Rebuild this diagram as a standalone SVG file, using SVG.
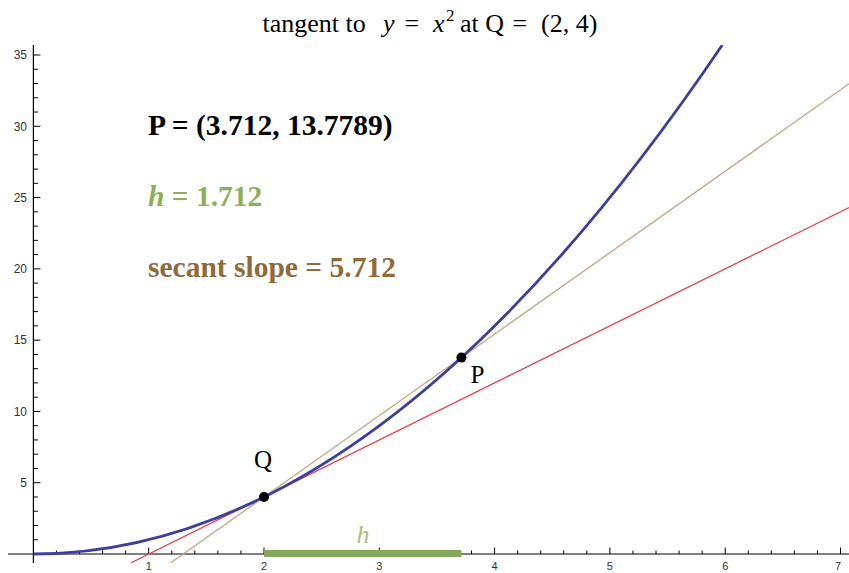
<svg xmlns="http://www.w3.org/2000/svg" width="849" height="573" viewBox="0 0 849 573">
<style>
.ax{stroke:#000;stroke-width:1.2;fill:none}
.tk{stroke:#000;stroke-width:1;fill:none}
.tl{font-family:"Liberation Sans",Arial,sans-serif;font-size:12px;fill:#333}
.xl{font-size:11px}
.ser{font-family:"Liberation Serif","Times New Roman",serif}
.big{font-family:"Liberation Serif","Times New Roman",serif;font-weight:bold;font-size:29.5px}
.dot{fill:#000}
</style>
<defs>
<clipPath id="plot"><rect x="8" y="45" width="841" height="518"/></clipPath>
</defs>
<rect width="849" height="573" fill="#fff"/>
<g id="title">
<text class="ser" y="32" font-size="26" fill="#000"><tspan x="262.5">tangent to</tspan><tspan x="383" font-style="italic">y</tspan><tspan x="404.5">=</tspan><tspan x="433" font-style="italic">x</tspan><tspan x="446" y="21" font-size="17">2</tspan><tspan x="460" y="32">at Q</tspan><tspan x="512.5">=</tspan><tspan x="541">(2, 4)</tspan></text>
</g>
<g id="axes">
<path class="ax" d="M8 554H849M33.4 45V563"/>
<path class="tk" d="M56.46 554v-3.5M79.52 554v-3.5M102.58 554v-3.5M125.64 554v-3.5M171.76 554v-3.5M194.82 554v-3.5M217.88 554v-3.5M240.94 554v-3.5M287.06 554v-3.5M310.12 554v-3.5M333.18 554v-3.5M356.24 554v-3.5M402.36 554v-3.5M425.42 554v-3.5M448.48 554v-3.5M471.54 554v-3.5M517.66 554v-3.5M540.72 554v-3.5M563.78 554v-3.5M586.84 554v-3.5M632.96 554v-3.5M656.02 554v-3.5M679.08 554v-3.5M702.14 554v-3.5M748.26 554v-3.5M771.32 554v-3.5M794.38 554v-3.5M817.44 554v-3.5"/>
<path class="tk" d="M148.7 554v-6.5M264 554v-6.5M379.3 554v-6.5M494.6 554v-6.5M609.9 554v-6.5M725.2 554v-6.5M840.5 554v-6.5"/>
<path class="tk" d="M33.4 539.74h4.5M33.4 525.49h4.5M33.4 511.23h4.5M33.4 496.97h4.5M33.4 468.46h4.5M33.4 454.2h4.5M33.4 439.94h4.5M33.4 425.69h4.5M33.4 397.17h4.5M33.4 382.92h4.5M33.4 368.66h4.5M33.4 354.4h4.5M33.4 325.89h4.5M33.4 311.63h4.5M33.4 297.37h4.5M33.4 283.12h4.5M33.4 254.6h4.5M33.4 240.35h4.5M33.4 226.09h4.5M33.4 211.83h4.5M33.4 183.32h4.5M33.4 169.06h4.5M33.4 154.8h4.5M33.4 140.55h4.5M33.4 112.03h4.5M33.4 97.78h4.5M33.4 83.52h4.5M33.4 69.26h4.5"/>
<path class="tk" d="M33.4 482.72h7M33.4 411.43h7M33.4 340.15h7M33.4 268.86h7M33.4 197.58h7M33.4 126.29h7M33.4 55h7"/>
<g class="tl" text-anchor="end">
<text x="27" y="487">5</text><text x="27" y="415.7">10</text><text x="27" y="344.4">15</text><text x="27" y="273.1">20</text><text x="27" y="201.8">25</text><text x="27" y="130.5">30</text><text x="27" y="59.2">35</text>
</g>
<g class="tl xl" text-anchor="middle">
<text x="148.7" y="569.5">1</text><text x="264" y="569.5">2</text><text x="379.3" y="569.5">3</text><text x="494.6" y="569.5">4</text><text x="609.9" y="569.5">5</text><text x="725.2" y="569.5">6</text><text x="838" y="569.5">7</text>
</g>
</g>
<g id="h-bar">
<rect x="264" y="550" width="197.4" height="7" fill="#86a85a"/>
<text class="ser" x="363" y="543" font-size="26" font-style="italic" fill="#a8c285" text-anchor="middle">h</text>
</g>
<g id="curves" clip-path="url(#plot)">
<path d="M131 562.8L849 207.6" stroke="#e0464a" stroke-width="1.3" fill="none"/>
<path d="M170.5 563L849 83.8" stroke="#bfa685" stroke-width="1.3" fill="none"/>
<path d="M33.4 554Q377.9 554 722.3 45" stroke="#3e3e9e" stroke-width="2.8" fill="none"/>
</g>
<g id="Q">
<circle class="dot" cx="264" cy="497" r="5"/>
<text class="ser" x="263" y="468" font-size="25" text-anchor="middle">Q</text>
</g>
<g id="P">
<circle class="dot" cx="461.4" cy="357.6" r="5"/>
<text class="ser" x="477.5" y="383" font-size="25" text-anchor="middle">P</text>
</g>
<g id="labels">
<text class="big" x="148" y="135" fill="#000">P = (3.712, 13.7789)</text>
<text class="big" x="148" y="206" fill="#8cb058"><tspan font-style="italic">h</tspan> = 1.712</text>
<text class="big" x="148" y="277" fill="#8f6b3c">secant slope = 5.712</text>
</g>
</svg>
